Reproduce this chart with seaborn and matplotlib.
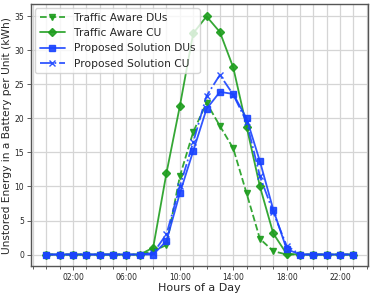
import seaborn as sns
import matplotlib.pyplot as plt
import matplotlib.ticker as mticker
import pandas as pd

sns.set_style("whitegrid")

hours = list(range(24))
traffic_dus = [0, 0, 0, 0, 0, 0, 0, 0, 0.5, 1.4, 11.5, 18.0, 22.3, 18.9, 15.6, 9.0,
               2.3, 0.5, 0, 0, 0, 0, 0, 0]
traffic_cu = [0, 0, 0, 0, 0, 0, 0, 0, 1.0, 12.0, 21.8, 32.5, 35.0, 32.7, 27.5, 18.8,
              10.0, 3.1, 0.1, 0, 0, 0, 0, 0]
proposed_dus = [0, 0, 0, 0, 0, 0, 0, 0, 0, 2.0, 9.0, 15.2, 21.4, 23.9, 23.6, 20.0,
                13.7, 6.6, 0.8, 0, 0, 0, 0, 0]
proposed_cu = [0, 0, 0, 0, 0, 0, 0, 0, 0.2, 3.0, 10.0, 16.5, 23.3, 26.4, 23.5, 19.5,
               11.5, 6.2, 1.3, 0, 0, 0, 0, 0]

df = pd.DataFrame({"hour": hours, "Traffic Aware DUs": traffic_dus,
                   "Traffic Aware CU": traffic_cu,
                   "Proposed Solution DUs": proposed_dus,
                   "Proposed Solution CU": proposed_cu})

green = "#1f9e1f"
blue = "#1a44ff"
styles = {
    "Traffic Aware DUs": dict(color=green, linestyle="--", marker="v"),
    "Traffic Aware CU": dict(color=green, linestyle="-", marker="D"),
    "Proposed Solution DUs": dict(color=blue, linestyle="-", marker="s"),
    "Proposed Solution CU": dict(color=blue, linestyle="-.", marker="x"),
}

fig = plt.figure(figsize=(3.74, 2.95), dpi=100)
ax = fig.add_axes([0.083, 0.098, 0.901, 0.888])

for name, st in styles.items():
    sns.lineplot(data=df, x="hour", y=name, ax=ax, label=name, linewidth=1.3,
                 markersize=4.5, markeredgewidth=1.0, markeredgecolor=st["color"],
                 alpha=0.9, **st)

ax.set_xlim(-1.15, 24.1)
ax.set_ylim(-1.7, 36.8)
ax.xaxis.set_major_locator(mticker.FixedLocator([2, 6, 10, 14, 18, 22]))
ax.xaxis.set_major_formatter(mticker.FuncFormatter(lambda v, p: "%02d:00" % int(v)))
ax.xaxis.set_minor_locator(mticker.MultipleLocator(1))
ax.yaxis.set_major_locator(mticker.MultipleLocator(5))
ax.grid(which="both", axis="x", color="#d5d5d5", linewidth=0.9)
ax.grid(which="major", axis="y", color="#d5d5d5", linewidth=0.9)
ax.tick_params(axis="both", which="major", labelsize=5.5, length=3, color="#444444",
               bottom=True, left=True, width=0.6, pad=2)
ax.tick_params(axis="x", which="minor", length=2, bottom=True, color="#444444", width=0.6)
for s in ax.spines.values():
    s.set_color("#555555")
    s.set_linewidth(1.0)

ax.set_xlabel("Hours of a Day", fontsize=8, labelpad=1)
ax.set_ylabel("Unstored Energy in a Battery per Unit (kWh)", fontsize=7.7, labelpad=2)
ax.legend(loc="upper left", fontsize=7.7, frameon=True, borderaxespad=0.4,
          handlelength=2.4, labelspacing=0.5, edgecolor="#cccccc", framealpha=0.8)

fig.savefig("out.png", dpi=100)
